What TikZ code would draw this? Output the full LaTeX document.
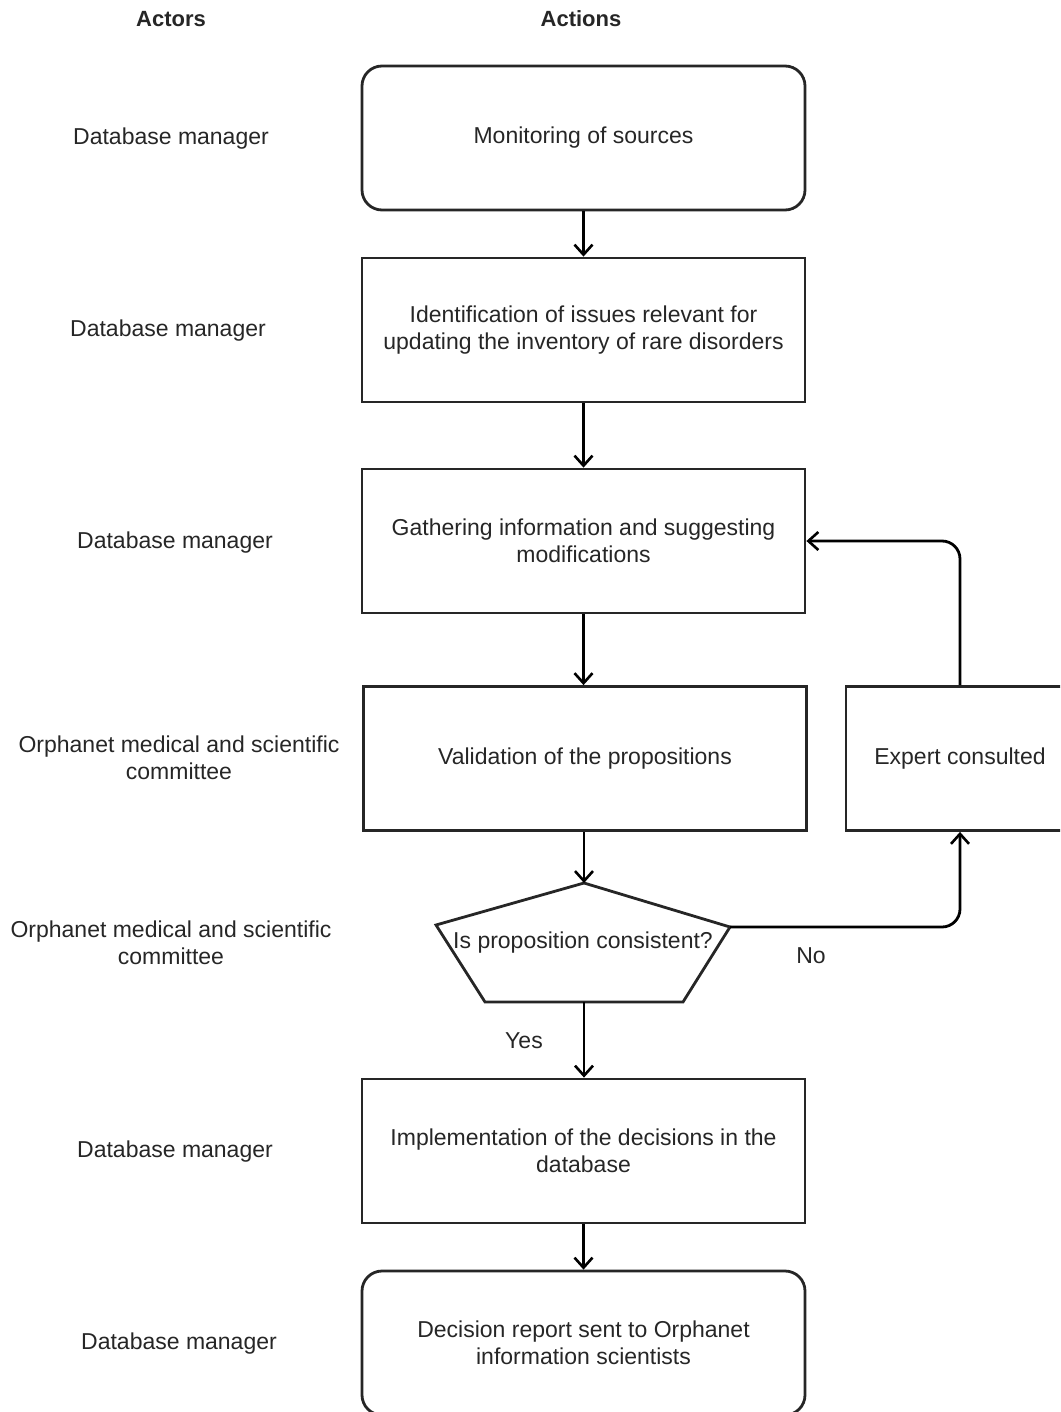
\documentclass[tikz,border=0pt]{standalone}
\usepackage{fontspec}
\setmainfont{Liberation Sans}
\usetikzlibrary{arrows.meta}
\begin{document}
\begin{tikzpicture}[x=1pt,y=-1pt,
  every node/.style={font=\fontsize{23}{27}\selectfont, text=black!85},
  actbox/.style={draw=black!85, line width=2.8pt, minimum width=443pt, minimum height=144pt, align=center, inner sep=0pt},
  roundbox/.style={actbox, rounded corners=20pt},
  actor/.style={align=center},
  head/.style={font=\fontsize{22}{27}\selectfont\bfseries},
  flow/.style={draw=black, line width=2.8pt, -{Straight Barb[length=10pt,width=18pt,line width=2.6pt]}, rounded corners=18pt},
  lbl/.style={}
]
\useasboundingbox (0,0) rectangle (1060,1412);
\clip (0,0) rectangle (1060,1412);

% headers
\node[head] (hActors) at (171,19) {Actors};
\node[head] (hActions) at (581,19) {Actions};

% actors
\node[actor] (a1) at (171,139) {Database manager};
\node[actor] (a2) at (168,331) {Database manager};
\node[actor] (a3) at (175,543) {Database manager};
\node[actor] (a4) at (179,758) {Orphanet medical and scientific\\committee};
\node[actor] (a5) at (171,943) {Orphanet medical and scientific\\committee};
\node[actor] (a6) at (175,1152) {Database manager};
\node[actor] (a7) at (179,1344) {Database manager};

% actions
\node[roundbox] (b1) at (583.5,138) {Monitoring of sources};
\node[actbox] (b2) at (583.5,330) {Identification of issues relevant for\\updating the inventory of rare disorders};
\node[actbox] (b3) at (583.5,541) {Gathering information and suggesting\\modifications};
\node[actbox] (b4) at (585,758.5) {Validation of the propositions};
\node[actbox, minimum width=228pt] (ex) at (960,758.5) {Expert consulted};
\node[actbox] (b5) at (583.5,1151) {Implementation of the decisions in the\\database};
\node[roundbox] (b6) at (583.5,1343) {Decision report sent to Orphanet\\information scientists};

% decision pentagon
\coordinate (pTop) at (584,883);
\coordinate (pRight) at (730,927);
\coordinate (pBR) at (683,1002);
\coordinate (pBL) at (485,1002);
\coordinate (pLeft) at (436,925);
\coordinate (pBot) at (584,1002);
\draw[draw=black!85, line width=2.8pt, line join=miter] (pTop) -- (pRight) -- (pBR) -- (pBL) -- (pLeft) -- cycle;
\node (dec) at (583,943) {Is proposition consistent?};

% connectors
\draw[flow] (b1.south) -- (b2.north);
\draw[flow] (b2.south) -- (b3.north);
\draw[flow] (b3.south) -- (b3.south |- b4.north);
\draw[flow] (pTop |- b4.south) -- (pTop);
\draw[flow] (pBot) -- (pBot |- b5.north);
\draw[flow] (b5.south) -- (b6.north);
\draw[flow] (pRight) -- (pRight -| ex.south) -- (ex.south);
\draw[flow] (ex.north) -- (ex.north |- b3.east) -- (b3.east);

% labels
\node[lbl] (no) at (811,956) {No};
\node[lbl] (yes) at (524,1041) {Yes};
\end{tikzpicture}
\end{document}
